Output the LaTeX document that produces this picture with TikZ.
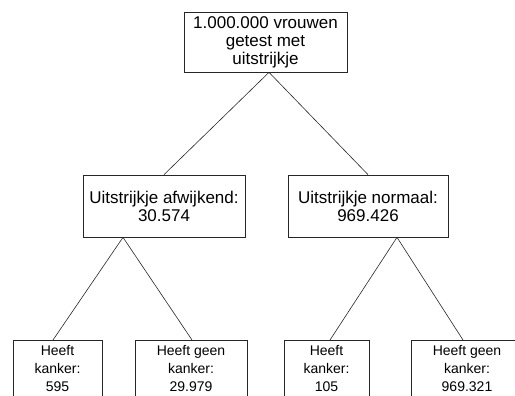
\documentclass[tikz,border=0pt]{standalone}
\usepackage{fontspec}
\setmainfont{Liberation Sans}
\usetikzlibrary{calc}
\begin{document}
\begin{tikzpicture}[x=1pt,y=-1pt,
  box/.style={draw=black!85, line width=0.7pt, align=center, inner xsep=2pt},
  bigtext/.style={font=\fontsize{17}{18}\selectfont},
  smalltext/.style={font=\fontsize{14}{18}\selectfont, inner ysep=5pt, anchor=north},
  link/.style={draw=black!85, line width=0.6pt}]
  \useasboundingbox (0,0) rectangle (515,396);
  \clip (0,0) rectangle (515,396);

  % root
  \node[box, bigtext, minimum width=163pt, minimum height=60pt] (top) at (265.5,42)
    {1.000.000 vrouwen\\getest met\\uitstrijkje};

  % test outcome
  \node[box, bigtext, minimum width=162pt, minimum height=62pt] (ml) at (164,206)
    {Uitstrijkje afwijkend:\\30.574};
  \node[box, bigtext, minimum width=160pt, minimum height=62pt] (mr) at (368,206)
    {Uitstrijkje normaal:\\969.426};

  % actual diagnosis
  \node[box, smalltext, minimum width=89pt] (b1) at (57.5,340) {Heeft\\kanker:\\595};
  \node[box, smalltext, minimum width=112pt] (b2) at (191,340) {Heeft geen\\kanker:\\29.979};
  \node[box, smalltext, minimum width=85pt] (b3) at (326.5,340) {Heeft\\kanker:\\105};
  \node[box, smalltext, minimum width=112pt] (b4) at (467,340) {Heeft geen\\kanker:\\969.321};

  % branch points
  \coordinate (ta) at ($(top.south)+(3.5,0)$);
  \coordinate (la) at ($(ml.south)+(-41,0)$);
  \coordinate (ra) at ($(mr.south)+(29,0)$);

  \draw[link] (ta) -- (ml.north);
  \draw[link] (ta) -- (mr.north);
  \draw[link] (la) -- ($(b1.north)+(-4.5,0)$);
  \draw[link] (la) -- ($(b2.north)+(1,0)$);
  \draw[link] (ra) -- ($(b3.north)+(3.5,0)$);
  \draw[link] (ra) -- ($(b4.north)+(-4,0)$);
\end{tikzpicture}
\end{document}
